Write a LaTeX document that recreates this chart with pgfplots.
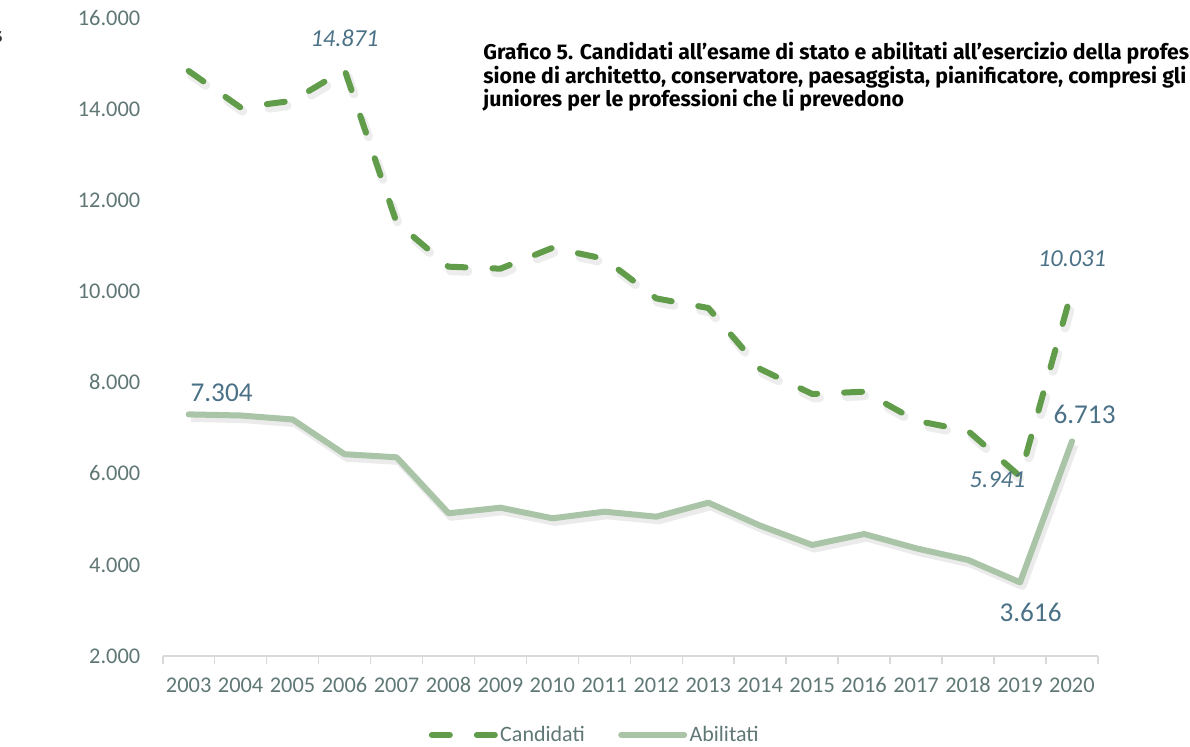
\documentclass[border=0pt]{standalone}
\usepackage{fontspec}
\setmainfont{Carlito}
\newfontfamily\titlefont{Fira Sans}
\usepackage{pgfplots}
\usepackage{pgfplotstable}
\pgfplotsset{compat=1.18}
\definecolor{cand}{HTML}{609C4A}
\definecolor{abil}{HTML}{A9C4A6}
\definecolor{lab}{HTML}{4B7187}
\definecolor{tck}{HTML}{5F7775}
\definecolor{axl}{HTML}{D9D9D9}

\pgfplotstableread{
year cand abil
2003 14843 7304
2004 14040 7280
2005 14190 7192
2006 14871 6430
2007 11520 6362
2008 10547 5133
2009 10503 5256
2010 10960 5023
2011 10720 5168
2012 9850 5058
2013 9640 5366
2014 8300 4861
2015 7752 4437
2016 7803 4678
2017 7166 4364
2018 6940 4108
2019 5941 3616
2020 10031 6713
}\data

\begin{document}
\begin{tikzpicture}
\useasboundingbox (0pt,0pt) rectangle (595pt,373.5pt);
\node[anchor=base east, inner sep=0pt, font=\titlefont\fontsize{10.65}{12}\selectfont\bfseries, text=black!80] at (1.4pt,352pt) {s};
\begin{scope}[every node/.style={anchor=base west, inner sep=0pt, font=\titlefont\fontsize{10.65}{12}\selectfont\bfseries}]
\node at (241.5pt,343.85pt) {Grafico 5. Candidati all’esame di stato e abilitati all’esercizio della profes-};
\node at (241.5pt,331.85pt) {sione di architetto, conservatore, paesaggista, pianificatore, compresi gli};
\node at (241.5pt,320.15pt) {juniores per le professioni che li prevedono};
\end{scope}
\begin{axis}[
  at={(81.35pt,45.5pt)}, anchor=south west,
  scale only axis, width=467.65pt, height=318.85pt,
  xmin=2002.5, xmax=2020.5, ymin=2000, ymax=16000,
  clip=false, no markers,
  axis x line=bottom, axis y line=left,
  x axis line style={-, draw=axl, line width=1pt},
  y axis line style={draw=none},
  xtick={2003,...,2020},
  minor xtick={2002.5,2003.5,...,2020.5},
  ytick={2000,4000,...,16000},
  tick align=outside,
  major tick length=0pt,
  minor tick length=4pt,
  minor x tick style={draw=axl, line width=0.8pt},
  ytick style={draw=none},
  scaled y ticks=false,
  /pgf/number format/assume math mode=true,
  xticklabel style={/pgf/number format/1000 sep={}, font=\fontsize{11.2}{13}\selectfont, text=tck, inner sep=0pt, anchor=base, yshift=-18.5pt},
  yticklabel style={/pgf/number format/fixed, /pgf/number format/1000 sep={.}, font=\fontsize{11.2}{13}\selectfont, text=tck, inner sep=0pt, anchor=base east, xshift=-11pt, yshift=-3.6pt},
  legend style={at={(0.4622,-0.1239)}, anchor=center, draw=none, fill=none, legend columns=2,
    font=\fontsize{11}{13}\selectfont, text=tck, inner sep=0pt,
    /tikz/every even column/.append style={column sep=15.5pt}, nodes={inner sep=1.2pt}},
  legend image code/.code={\draw[#1] (1.5pt,0pt) -- (33pt,0pt);},
]
\addplot[forget plot, draw=black, opacity=0.07, line width=4.5pt, line cap=round, dash pattern=on 9pt off 13.5pt, xshift=1.2pt, yshift=-2pt] table[x=year,y=cand]{\data};
\addplot[cand, line width=3pt, line cap=round, line join=round, dash pattern=on 9pt off 13.5pt] table[x=year,y=cand]{\data};
\addplot[forget plot, draw=black, opacity=0.08, line width=4pt, line join=round, xshift=1.2pt, yshift=-1.8pt] table[x=year,y=abil]{\data};
\addplot[abil, line width=3pt, line cap=round, line join=round] table[x=year,y=abil]{\data};
\legend{Candidati, Abilitati}
\node[font=\fontsize{13.6}{15}\selectfont, text=lab, anchor=base west, inner sep=0pt, xshift=0.75pt, yshift=6.35pt] at (axis cs:2003,7304) {7.304};
\node[font=\fontsize{12.2}{14}\selectfont\itshape, text=lab, anchor=base, inner sep=0pt, yshift=11.85pt] at (axis cs:2006,14871) {14.871};
\node[font=\fontsize{12.2}{14}\selectfont\itshape, text=lab, anchor=base, inner sep=0pt, yshift=11.75pt] at (axis cs:2020,10031) {10.031};
\node[font=\fontsize{12.2}{14}\selectfont\itshape, text=lab, anchor=base east, inner sep=0pt, xshift=2.85pt, yshift=-5.4pt] at (axis cs:2019,5941) {5.941};
\node[font=\fontsize{13.6}{15}\selectfont, text=lab, anchor=base west, inner sep=0pt, xshift=-9.45pt, yshift=9pt] at (axis cs:2020,6713) {6.713};
\node[font=\fontsize{13.6}{15}\selectfont, text=lab, anchor=base, inner sep=0pt, xshift=5.25pt, yshift=-19.65pt] at (axis cs:2019,3616) {3.616};
\end{axis}
\end{tikzpicture}
\end{document}
